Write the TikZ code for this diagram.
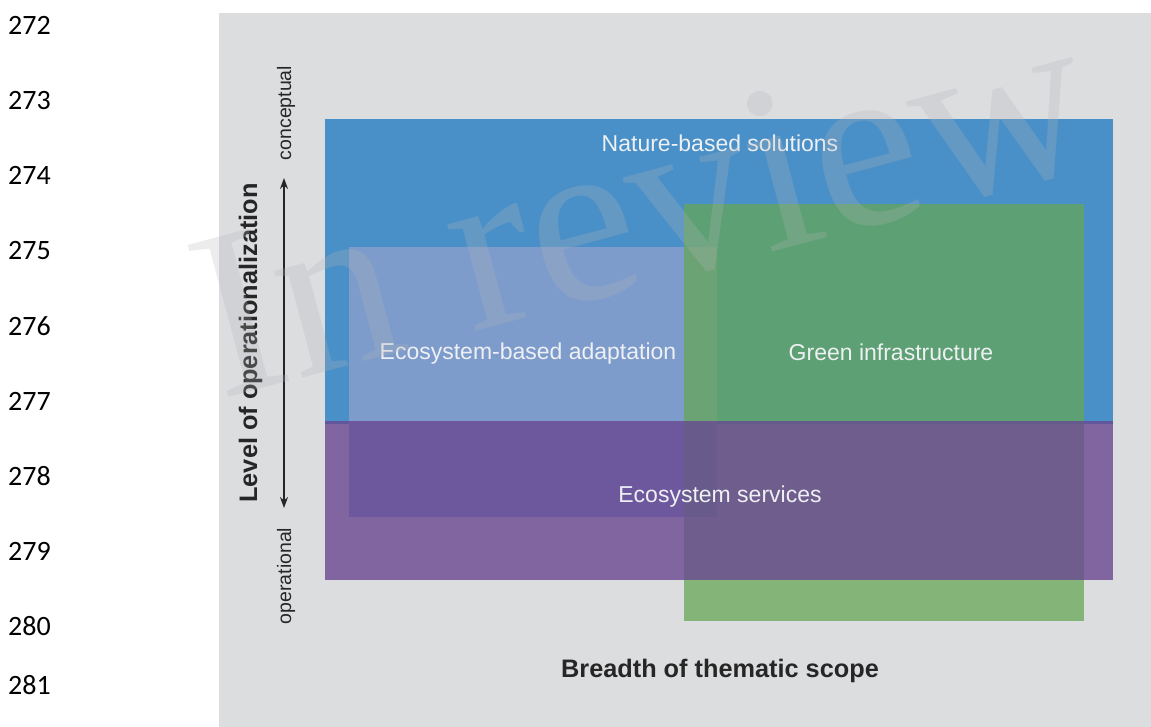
\documentclass[tikz,border=0pt]{standalone}
\usepackage{fontspec}
\setmainfont{Liberation Sans}
\newfontfamily\linenofont{Carlito}
\newfontfamily\stampfont{Liberation Serif}
\usetikzlibrary{arrows.meta}
\definecolor{panelgray}{HTML}{DCDDDF}
\definecolor{nbsblue}{HTML}{4A90C8}
\definecolor{ebalilac}{HTML}{7D9CCC}
\definecolor{gigreen}{RGB}{101,166,84}
\definecolor{espurple}{RGB}{105,72,146}
\definecolor{labwhite}{HTML}{EEF0F3}
\definecolor{axisdark}{HTML}{262626}
\definecolor{stampgray}{RGB}{180,180,184}

\begin{document}
\begin{tikzpicture}[>={Stealth[length=11pt,width=8pt]},x=1pt,y=-1pt,
	lab/.style={text=labwhite,font=\fontsize{23}{27}\selectfont,inner sep=0pt,anchor=base},
	lineno/.style={font=\linenofont\fontsize{28}{32}\selectfont,inner sep=0pt,anchor=base west},
	axislab/.style={text=axisdark,font=\bfseries\fontsize{25.3}{30}\selectfont,inner sep=0pt,anchor=base},
	pole/.style={text=axisdark,font=\fontsize{19.5}{23}\selectfont,inner sep=0pt,anchor=base,rotate=90}]
	\useasboundingbox (0,0) rectangle (1151,727);
	% page line numbers
	\foreach \n/\y in {272/35,273/110,274/185,275/260,276/335,277/410,278/485,279/560,280/635,281/694}
		\node[lineno] (ln\n) at (8,\y) {\n};
	\fill[panelgray] (219,13) rectangle (1151,727);
	% the four concepts, back to front
	\fill[nbsblue] (325,119) rectangle (1113,424);
	\fill[ebalilac] (349,247) rectangle (717,517);
	\fill[gigreen,opacity=0.73] (684,204) rectangle (1084,621);
	\fill[espurple,opacity=0.8] (325,421) rectangle (1113,580);
	\node[lab] (nbs) at (720,152) {Nature-based solutions};
	\node[lab] (eba) at (528,359) {Ecosystem-based adaptation};
	\node[lab] (gi) at (891,360) {Green infrastructure};
	\node[lab] (es) at (720,502) {Ecosystem services};
	% axes
	\node[axislab] (breadth) at (720,677) {Breadth of thematic scope};
	\node[axislab,rotate=90] (level) at (257,343) {Level of operationalization};
	\node[pole] (concept) at (291,113) {conceptual};
	\node[pole] (operat) at (291,576) {operational};
	\coordinate (uptip) at (284,178);
	\coordinate (downtip) at (284,508);
	\draw[<->,line width=1.8pt,axisdark] (downtip) -- (uptip);
	% watermark
	\node[font=\stampfont\fontsize{240}{240}\selectfont,text=stampgray,opacity=0.25,
		inner sep=0pt,anchor=base west,rotate=15] (stamp) at (220,400) {In review};
\end{tikzpicture}
\end{document}
